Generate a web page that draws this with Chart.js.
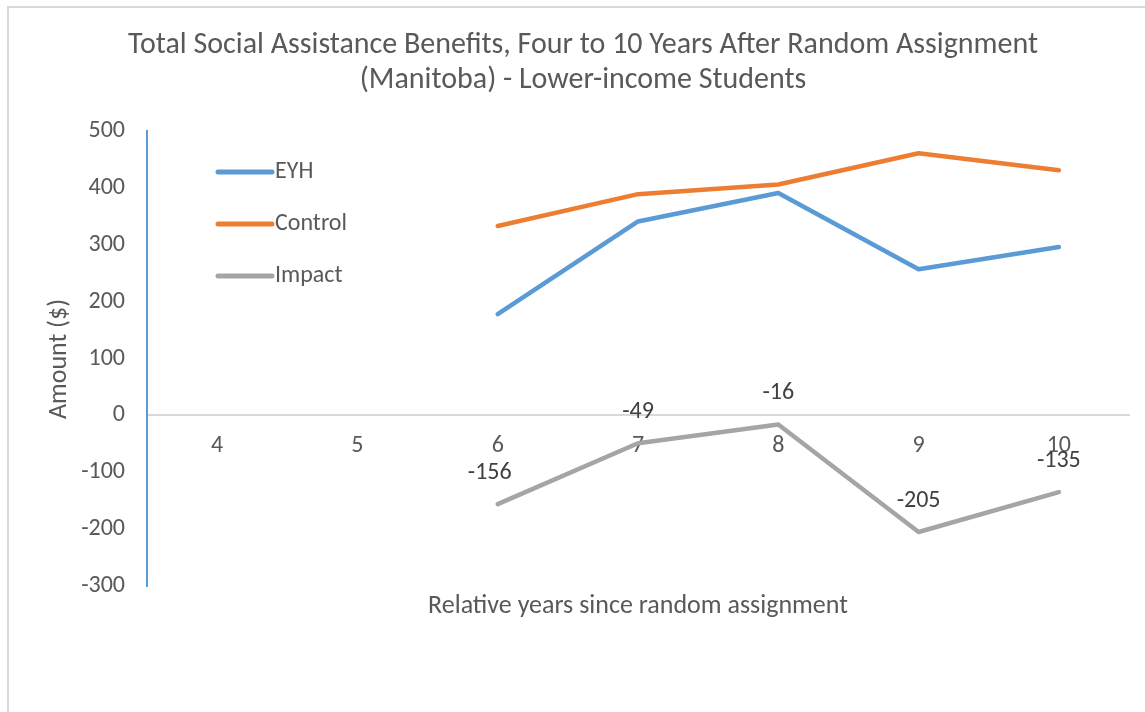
<!DOCTYPE html>
<html>
<head>
<meta charset="utf-8">
<script src="https://cdn.jsdelivr.net/npm/chart.js@4.4.1/dist/chart.umd.min.js"></script>
<style>
  html, body { margin: 0; padding: 0; background: #fff; }
  #wrap { position: relative; width: 1145px; height: 712px; }
  #frame { position: absolute; left: 7px; top: 6px; right: -10px; bottom: -10px; border: 2px solid #d9d9d9; box-sizing: border-box; }
  canvas { position: absolute; left: 0; top: 0; }
</style>
</head>
<body>
<div id="wrap">
  <div id="frame"></div>
  <canvas id="chart" width="1145" height="712"></canvas>
</div>
<script>
// chart data
const years = ['4', '5', '6', '7', '8', '9', '10'];
const eyh     = [null, null, 178, 341, 391, 257, 296];
const control = [null, null, 333, 389, 406, 461, 431];
const impact  = [null, null, -156, -49, -16, -205, -135];
const yTicks  = [-300, -200, -100, 0, 100, 200, 300, 400, 500];

const FONT = 'Carlito, Lato, "Open Sans", sans-serif';
const TXT = '#595959';

// titles, legend and impact labels drawn on top
const extras = {
  id: 'extras',
  afterDraw(chart) {
    const { ctx, scales: { x, y } } = chart;
    ctx.save();
    ctx.fillStyle = TXT;
    ctx.textAlign = 'center';
    ctx.textBaseline = 'middle';
    ctx.font = '30px ' + FONT;
    ctx.fillText('Total Social Assistance Benefits, Four to 10 Years After Random Assignment', 583, 45);
    ctx.fillText('(Manitoba) - Lower-income Students', 583, 80);

    ctx.font = '26px ' + FONT;
    ctx.fillText('Relative years since random assignment', 638, 606);
    ctx.save();
    ctx.translate(59, 359);
    ctx.rotate(-Math.PI / 2);
    ctx.fillText('Amount ($)', 0, 0);
    ctx.restore();

    // legend
    ctx.font = '24px ' + FONT;
    ctx.textAlign = 'left';
    chart.data.datasets.forEach((ds, i) => {
      const ly = 172 + i * 52;
      ctx.strokeStyle = ds.borderColor;
      ctx.lineWidth = 5;
      ctx.lineCap = 'round';
      ctx.beginPath();
      ctx.moveTo(218, ly);
      ctx.lineTo(272, ly);
      ctx.stroke();
      ctx.fillStyle = TXT;
      ctx.fillText(ds.label, 275, ly);
    });

    // data labels on impact
    ctx.font = '24px ' + FONT;
    ctx.textAlign = 'center';
    ctx.fillStyle = '#404040';
    impact.forEach((v, i) => {
      if (v === null) return;
      const px = x.getPixelForValue(i);
      const py = y.getPixelForValue(v);
      ctx.fillText(String(v), px - (i === 2 ? 8 : 0), py - 31);
    });
    ctx.restore();
  }
};

const lineDs = (label, data, color) => ({
  label, data,
  borderColor: color,
  backgroundColor: color,
  borderWidth: 4.5,
  pointRadius: 0,
  tension: 0,
  borderCapStyle: 'round',
  borderJoinStyle: 'round',
  spanGaps: false
});

new Chart(document.getElementById('chart'), {
  type: 'line',
  data: {
    labels: years,
    datasets: [
      lineDs('EYH', eyh, '#5b9bd5'),
      lineDs('Control', control, '#ed7d31'),
      lineDs('Impact', impact, '#a5a5a5')
    ]
  },
  options: {
    responsive: false,
    animation: false,
    layout: { padding: { left: 0, top: 131, right: 16, bottom: 126 } },
    plugins: {
      legend: { display: false },
      title: { display: false },
      tooltip: { enabled: false }
    },
    scales: {
      x: {
        position: { y: 0 },
        offset: true,
        grid: { display: false, drawTicks: false },
        border: { display: true, color: '#d9d9d9', width: 2 },
        ticks: { color: TXT, font: { family: FONT, size: 24 }, padding: 16, maxRotation: 0 }
      },
      y: {
        min: -300,
        max: 500,
        afterFit(scale) { scale.width = 147; },
        afterBuildTicks(scale) { scale.ticks = yTicks.map(v => ({ value: v })); },
        grid: { display: false, drawTicks: false },
        border: { display: true, color: '#5b9bd5', width: 2 },
        ticks: { color: TXT, font: { family: FONT, size: 24 }, padding: 22 }
      }
    }
  },
  plugins: [extras]
});
</script>
</body>
</html>
